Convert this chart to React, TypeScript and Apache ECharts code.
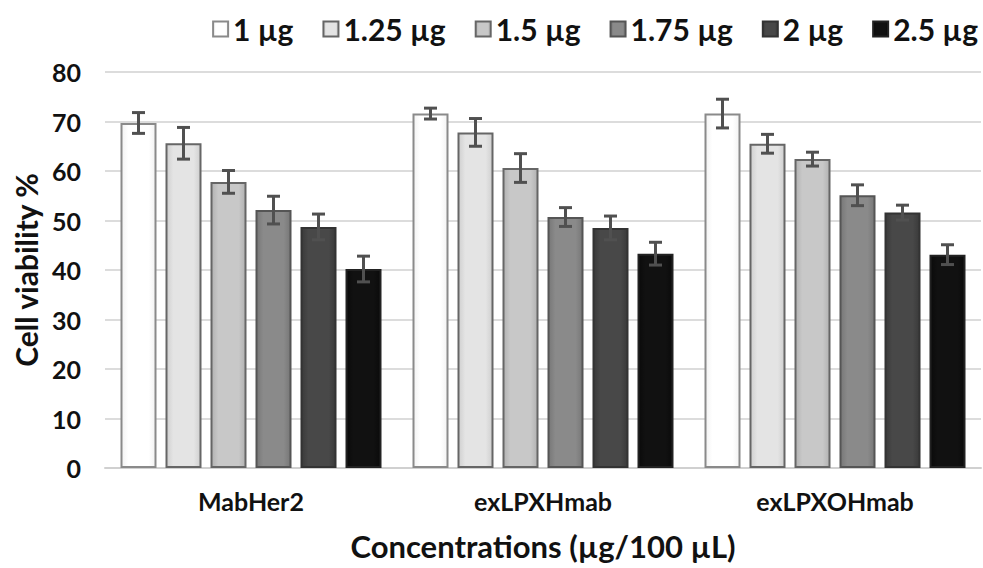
import React, { useEffect, useRef } from "react";
import * as echarts from "echarts";

const categories = ["MabHer2", "exLPXHmab", "exLPXOHmab"];
const doses = ["1 µg", "1.25 µg", "1.5 µg", "1.75 µg", "2 µg", "2.5 µg"];
const dose1 = [69.7, 71.6, 71.6];
const dose125 = [65.6, 67.8, 65.5];
const dose15 = [57.8, 60.6, 62.4];
const dose175 = [52.1, 50.7, 55.1];
const dose2 = [48.7, 48.5, 51.6];
const dose25 = [40.2, 43.3, 43.1];
const err1 = [2.1, 1.1, 2.9];
const err125 = [3.2, 2.8, 1.9];
const err15 = [2.3, 2.9, 1.4];
const err175 = [2.8, 1.9, 2.1];
const err2 = [2.6, 2.4, 1.5];
const err25 = [2.6, 2.3, 2.0];
const yTicks = [0, 10, 20, 30, 40, 50, 60, 70, 80];

const means = [dose1, dose125, dose15, dose175, dose2, dose25];
const errs = [err1, err125, err15, err175, err2, err25];
const fills = ["#ffffff", "#e4e4e4", "#c8c8c8", "#8a8a8a", "#484848", "#111111"];
const edges = ["#f2f2f2", "#cfcfcf", "#b2b2b2", "#777777", "#3a3a3a", "#0a0a0a"];
const borders = ["#8a8a8a", "#666666", "#666666", "#555555", "#333333", "#222222"];

const BAR_W = 36;
const GAP = 9;

export default function App() {
  const ref = useRef<HTMLDivElement>(null);
  useEffect(() => {
    if (!ref.current) return;
    const chart = echarts.init(ref.current, null, { renderer: "svg" });
    const font = "Lato, 'Open Sans', sans-serif";
    const n = doses.length;
    const groupW = n * BAR_W + (n - 1) * GAP;

    const barSeries = doses.map((d, i) => ({
      name: d,
      type: "bar",
      barWidth: BAR_W,
      barGap: (GAP / BAR_W) * 100 + "%",
      data: means[i],
      itemStyle: {
        color: {
          type: "linear",
          x: 0, y: 0, x2: 1, y2: 0,
          colorStops: [
            { offset: 0, color: edges[i] },
            { offset: 0.2, color: fills[i] },
            { offset: 0.8, color: fills[i] },
            { offset: 1, color: edges[i] },
          ],
        },
        borderColor: borders[i],
        borderWidth: 2,
      },
      z: 2,
    }));

    const errSeries = doses.map((d, i) => ({
      name: d + " err",
      type: "custom",
      data: categories.map((c, k) => [k, means[i][k] - errs[i][k], means[i][k] + errs[i][k]]),
      renderItem: (params: any, api: any) => {
        const k = api.value(0);
        const lo = api.coord([k, api.value(1)]);
        const hi = api.coord([k, api.value(2)]);
        const x = lo[0] - groupW / 2 + i * (BAR_W + GAP) + BAR_W / 2;
        const cap = 6.5;
        const style = { stroke: "#505050", lineWidth: 3 };
        return {
          type: "group",
          children: [
            { type: "line", shape: { x1: x, y1: lo[1], x2: x, y2: hi[1] }, style },
            { type: "line", shape: { x1: x - cap, y1: lo[1], x2: x + cap, y2: lo[1] }, style },
            { type: "line", shape: { x1: x - cap, y1: hi[1], x2: x + cap, y2: hi[1] }, style },
          ],
        };
      },
      z: 5,
      silent: true,
    }));

    chart.setOption({
      animation: false,
      backgroundColor: "#ffffff",
      textStyle: { fontFamily: font },
      legend: {
        data: doses,
        right: 0,
        top: 9,
        itemWidth: 15,
        itemHeight: 15,
        itemGap: 29,
        icon: "rect",
        textStyle: { fontSize: 30, fontWeight: "bold", color: "#111", fontFamily: font },
      },
      grid: { left: 105, right: 2, top: 72, bottom: 100, containLabel: false, outerBoundsMode: "none" },
      xAxis: {
        type: "category",
        data: categories,
        axisLine: { show: true, lineStyle: { color: "#d0d0d0", width: 2 } },
        axisTick: { show: false },
        axisLabel: { fontSize: 25, fontWeight: "bold", color: "#111", margin: 20, fontFamily: font },
        name: "Concentrations (µg/100 µL)",
        nameLocation: "middle",
        nameGap: 62,
        nameTextStyle: { fontSize: 31, fontWeight: "bold", color: "#111", fontFamily: font },
      },
      yAxis: {
        type: "value",
        min: yTicks[0],
        max: yTicks[yTicks.length - 1],
        interval: 10,
        axisLine: { show: false },
        axisTick: { show: false },
        splitLine: { lineStyle: { color: "#dcdcdc", width: 2 } },
        axisLabel: { fontSize: 25, fontWeight: "bold", color: "#111", margin: 24, fontFamily: font },
        name: "Cell viability %",
        nameLocation: "middle",
        nameGap: 62,
        nameRotate: 90,
        nameTextStyle: { fontSize: 30, fontWeight: "bold", color: "#111", fontFamily: font },
      },
      series: [...barSeries, ...errSeries],
    });
    return () => chart.dispose();
  }, []);
  return <div ref={ref} style={{ width: 983, height: 568, position: "absolute", left: 0, top: 0 }} />;
}
